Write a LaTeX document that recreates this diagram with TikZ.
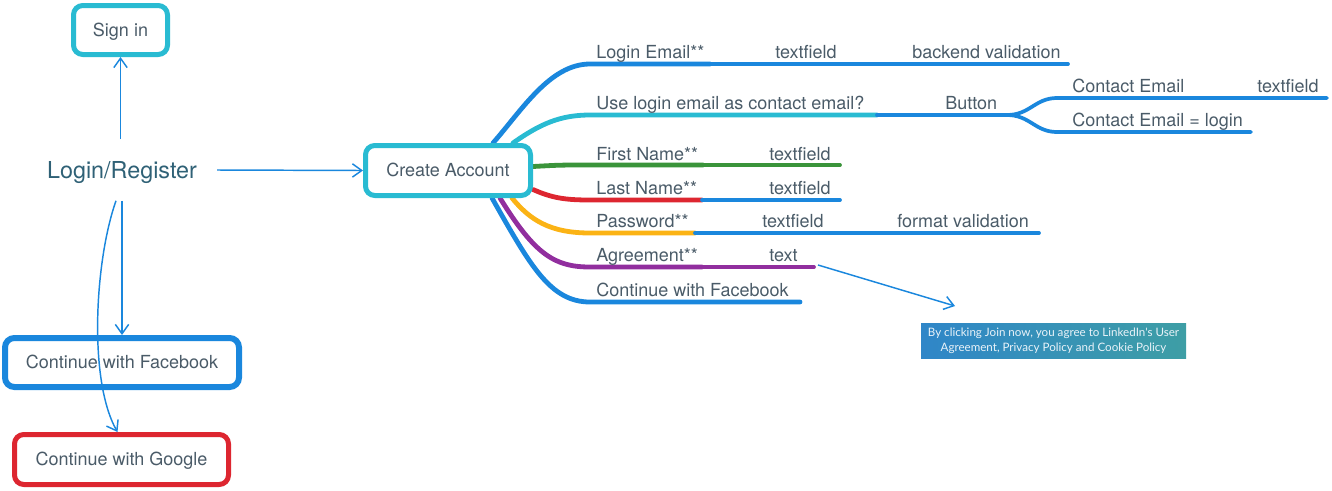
\documentclass[tikz,border=0pt]{standalone}
\usepackage{fontspec}
\setmainfont{TeX Gyre Heros}
\newfontfamily\notefont{Lato}
\usetikzlibrary{arrows.meta,calc}
\definecolor{mblue}{HTML}{1A87DD}
\definecolor{mcyan}{HTML}{29BBD2}
\definecolor{mred}{HTML}{DD2630}
\definecolor{mgreen}{HTML}{3A943A}
\definecolor{morange}{HTML}{FBB315}
\definecolor{mpurple}{HTML}{912E9E}
\definecolor{mtext}{HTML}{4A5B68}
\definecolor{mtitle}{HTML}{2F6176}
\definecolor{cleft}{HTML}{2F86C8}
\definecolor{cright}{HTML}{3E9EA5}
\pgfdeclarelayer{background}
\pgfsetlayers{background,main}
\tikzset{
  box/.style={draw, rounded corners=7pt, fill=white, text=mtext,
    font=\fontsize{13.5}{16}\selectfont, inner sep=0pt, text height=10.5pt, text depth=1pt},
  lbl/.style={anchor=base west, inner sep=0pt, text=mtext,
    font=\fontsize{13.5}{16}\selectfont},
  link/.style={mblue, line width=1.1pt,
    -{Straight Barb[length=7pt,width=10pt]}},
  branch/.style={line width=3.6pt, line cap=round},
  subline/.style={line width=2.8pt, line cap=round, mblue},
}
\begin{document}
\begin{tikzpicture}[x=0.75pt,y=-0.75pt]
\useasboundingbox (0,0) rectangle (1332,490);

% left part
\node[box, draw=mcyan, line width=3.75pt, minimum width=70.5pt, minimum height=36.75pt] (signin) at (120.5,30) {Sign in};
\node[text=mtitle, font=\fontsize{17.5}{20}\selectfont, inner xsep=15pt, inner ysep=0pt, minimum height=45.75pt, text height=15pt, text depth=1.6pt] (login) at (122,170) {Login/Register};
\node[box, draw=mblue, line width=4.5pt, minimum width=175.5pt, minimum height=36.75pt] (fb) at (122,362.5) {Continue with Facebook};
\node[box, draw=mred, line width=3.75pt, minimum width=160.5pt, minimum height=37.5pt] (google) at (121.5,459.5) {Continue with Google};
\node[box, draw=mcyan, line width=3.75pt, minimum width=123.75pt, minimum height=37.5pt] (create) at (448,170.5) {Create Account};

\draw[link] (login.north -| signin.south) -- (signin.south);
\draw[link] (login.east) -- (create.west);
\draw[link] (login.south -| fb.north) -- (fb.north);
\draw[link] ($(login.south)+(-6,0)$) .. controls (95,260) and (88,380) .. ($(google.north)+(-4,0)$);

% coordinates of the mind map lines
\coordinate (le0) at ($(create.north)+(45,0)$);
\coordinate (le1) at (710,64);
\coordinate (le2) at (847,64);
\coordinate (le3) at (1068,64);
\coordinate (ul0) at ($(create.north)+(65,0)$);
\coordinate (ul1) at (877,115);
\coordinate (ul2) at (1007,115);
\coordinate (ce1) at (1192,98);
\coordinate (ce2) at (1327,98);
\coordinate (cl1) at (1251,132);
\coordinate (fn0) at ($(create.east)+(0,-4)$);
\coordinate (fn1) at (703,165);
\coordinate (fn2) at (840,165);
\coordinate (ln0) at ($(create.east)+(0,19)$);
\coordinate (ln1) at (702,200);
\coordinate (ln2) at (840,200);
\coordinate (pw0) at ($(create.south)+(64,0)$);
\coordinate (pw1) at (695,233);
\coordinate (pw2) at (832,233);
\coordinate (pw3) at (1039,233);
\coordinate (ag0) at ($(create.south)+(52,0)$);
\coordinate (ag1) at (702,267);
\coordinate (ag2) at (814,267);
\coordinate (cf0) at ($(create.south)+(44,0)$);
\coordinate (cf1) at (800,302);
\coordinate (agTip) at (818,265);
\coordinate (noteTip) at (955,306);

\begin{pgfonlayer}{background}
\draw[branch, mblue] (le0) .. controls (522,110) and (550,64) .. (590,64) -- (le1);
\draw[subline] (le1) -- (le2) -- (le3);
\draw[branch, mcyan] (ul0) .. controls (540,124) and (560,115) .. (590,115) -- (ul1);
\draw[subline] (ul1) -- (ul2);
\draw[subline] (ul2) .. controls (1030,115) and (1035,98) .. (1057,98) -- (ce1) -- (ce2);
\draw[subline] (ul2) .. controls (1030,115) and (1035,132) .. (1057,132) -- (cl1);
\draw[branch, mgreen] (fn0) .. controls (560,165) .. (590,165) -- (fn1);
\draw[subline, mgreen] (fn1) -- (fn2);
\draw[branch, mred] (ln0) .. controls (552,198) and (565,200) .. (590,200) -- (ln1);
\draw[subline] (ln1) -- (ln2);
\draw[branch, morange] (pw0) .. controls (530,220) and (550,233) .. (590,233) -- (pw1);
\draw[subline] (pw1) -- (pw2) -- (pw3);
\draw[branch, mpurple] (ag0) .. controls (535,255) and (555,267) .. (590,267) -- (ag1);
\draw[subline, mpurple] (ag1) -- (ag2);
\draw[branch, mblue] (cf0) .. controls (530,265) and (550,302) .. (590,302) -- (cf1);
\end{pgfonlayer}

% labels
\node[lbl] (tLE) at (596,58.5) {Login Email**};
\node[lbl] (tLE2) at (775,58.5) {textfield};
\node[lbl] (tLE3) at (912,58.5) {backend validation};
\node[lbl] (tUL) at (596,109.5) {Use login email as contact email?};
\node[lbl] (tBtn) at (945,109.5) {Button};
\node[lbl] (tCE) at (1072,92.5) {Contact Email};
\node[lbl] (tCE2) at (1257,92.5) {textfield};
\node[lbl] (tCL) at (1072,126.5) {Contact Email = login};
\node[lbl] (tFN) at (596,160) {First Name**};
\node[lbl] (tFN2) at (769,160) {textfield};
\node[lbl] (tLN) at (596,194.5) {Last Name**};
\node[lbl] (tLN2) at (769,194.5) {textfield};
\node[lbl] (tPW) at (596,227.5) {Password**};
\node[lbl] (tPW2) at (762,227.5) {textfield};
\node[lbl] (tPW3) at (897,227.5) {format validation};
\node[lbl] (tAG) at (596,261.5) {Agreement**};
\node[lbl] (tAG2) at (769,261.5) {text};
\node[lbl] (tCF) at (596,296.5) {Continue with Facebook};

% callout
\node[left color=cleft, right color=cright, minimum width=198.75pt, minimum height=26.25pt,
  inner sep=0pt, align=center, text=white!90!cleft,
  font=\notefont\fontsize{8.7}{11.25}\selectfont] (note) at (1053.5,340.5)
  {By clicking Join now, you agree to LinkedIn's User\\Agreement, Privacy Policy and Cookie Policy};
\draw[link] (agTip) -- (noteTip);
\end{tikzpicture}
\end{document}
